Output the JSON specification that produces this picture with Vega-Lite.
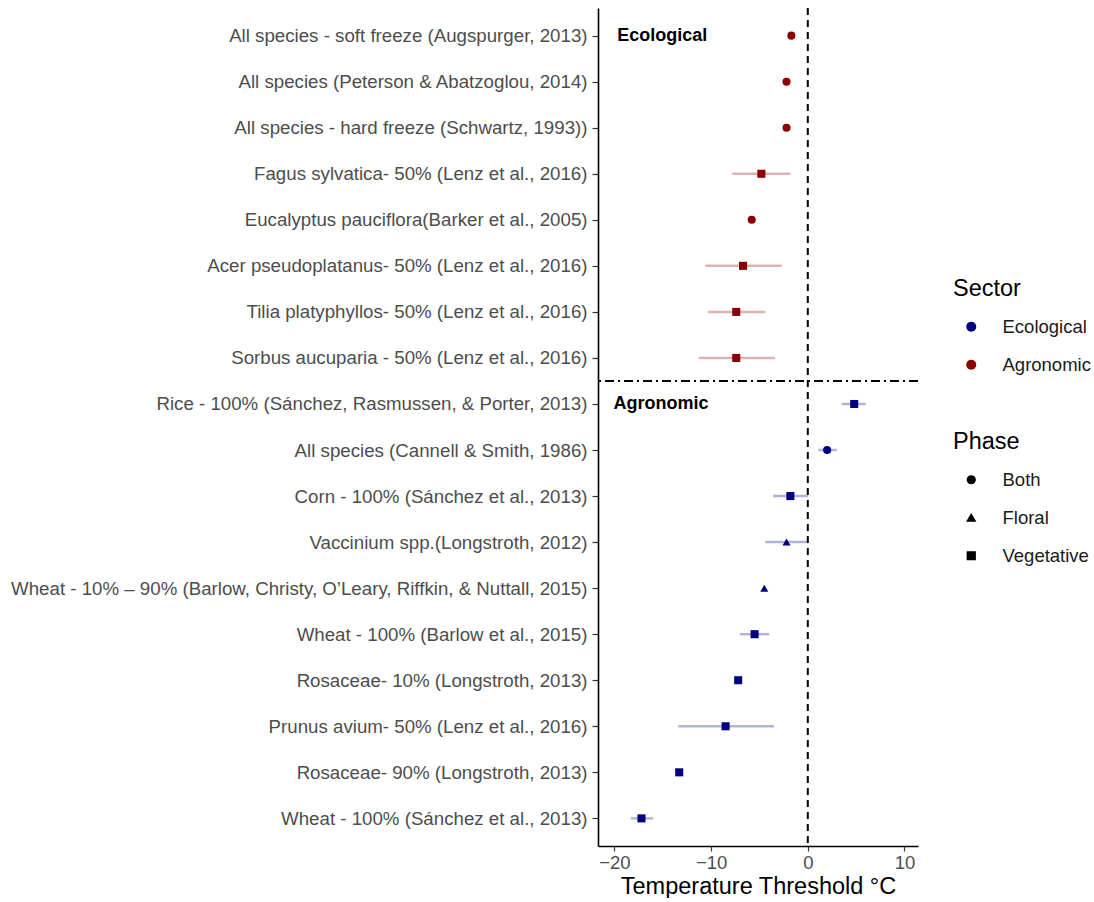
{
  "$schema": "https://vega.github.io/schema/vega-lite/v6.json",
  "width": 320,
  "height": 838,
  "padding": {"left": 10, "top": 7, "right": 0, "bottom": 0},
  "autosize": {"type": "pad"},
  "background": "white",
  "config": {
    "view": {"stroke": null},
    "font": "Liberation Sans",
    "axis": {"grid": false}
  },
  "datasets": {
    "rows": [
      {"label": "All species - soft freeze (Augspurger, 2013)", "value": -1.7, "lo": null, "hi": null, "Sector": "Agronomic", "Phase": "Both"},
      {"label": "All species (Peterson & Abatzoglou, 2014)", "value": -2.2, "lo": null, "hi": null, "Sector": "Agronomic", "Phase": "Both"},
      {"label": "All species - hard freeze (Schwartz, 1993))", "value": -2.2, "lo": null, "hi": null, "Sector": "Agronomic", "Phase": "Both"},
      {"label": "Fagus sylvatica- 50% (Lenz et al., 2016)", "value": -4.8, "lo": -7.8, "hi": -1.8, "Sector": "Agronomic", "Phase": "Vegetative"},
      {"label": "Eucalyptus pauciflora(Barker et al., 2005)", "value": -5.8, "lo": null, "hi": null, "Sector": "Agronomic", "Phase": "Both"},
      {"label": "Acer pseudoplatanus- 50% (Lenz et al., 2016)", "value": -6.7, "lo": -10.6, "hi": -2.7, "Sector": "Agronomic", "Phase": "Vegetative"},
      {"label": "Tilia platyphyllos- 50% (Lenz et al., 2016)", "value": -7.4, "lo": -10.3, "hi": -4.4, "Sector": "Agronomic", "Phase": "Vegetative"},
      {"label": "Sorbus aucuparia - 50% (Lenz et al., 2016)", "value": -7.4, "lo": -11.3, "hi": -3.4, "Sector": "Agronomic", "Phase": "Vegetative"},
      {"label": "Rice - 100% (Sánchez, Rasmussen, & Porter, 2013)", "value": 4.8, "lo": 3.5, "hi": 6.0, "Sector": "Ecological", "Phase": "Vegetative"},
      {"label": "All species (Cannell & Smith, 1986)", "value": 2.0, "lo": 1.1, "hi": 3.0, "Sector": "Ecological", "Phase": "Both"},
      {"label": "Corn - 100% (Sánchez et al., 2013)", "value": -1.8, "lo": -3.6, "hi": 0.0, "Sector": "Ecological", "Phase": "Vegetative"},
      {"label": "Vaccinium spp.(Longstroth, 2012)", "value": -2.2, "lo": -4.4, "hi": 0.0, "Sector": "Ecological", "Phase": "Floral"},
      {"label": "Wheat - 10% – 90% (Barlow, Christy, O’Leary, Riffkin, & Nuttall, 2015)", "value": -4.5, "lo": null, "hi": null, "Sector": "Ecological", "Phase": "Floral"},
      {"label": "Wheat - 100% (Barlow et al., 2015)", "value": -5.5, "lo": -7.0, "hi": -4.0, "Sector": "Ecological", "Phase": "Vegetative"},
      {"label": "Rosaceae- 10% (Longstroth, 2013)", "value": -7.2, "lo": null, "hi": null, "Sector": "Ecological", "Phase": "Vegetative"},
      {"label": "Prunus avium- 50% (Lenz et al., 2016)", "value": -8.5, "lo": -13.4, "hi": -3.5, "Sector": "Ecological", "Phase": "Vegetative"},
      {"label": "Rosaceae- 90% (Longstroth, 2013)", "value": -13.3, "lo": null, "hi": null, "Sector": "Ecological", "Phase": "Vegetative"},
      {"label": "Wheat - 100% (Sánchez et al., 2013)", "value": -17.2, "lo": -18.3, "hi": -16.0, "Sector": "Ecological", "Phase": "Vegetative"}
    ],
    "one": [{"a": 1}]
  },
  "data": {"name": "rows"},
  "resolve": {"scale": {"color": "independent"}, "legend": {"color": "independent"}},
  "layer": [
    {
      "transform": [{"filter": "datum.lo != null"}],
      "mark": {"type": "rule", "strokeWidth": 2.5},
      "encoding": {
        "y": {"field": "label", "type": "nominal", "sort": null},
        "x": {"field": "lo", "type": "quantitative"},
        "x2": {"field": "hi"},
        "color": {"field": "Sector", "type": "nominal", "scale": {"domain": ["Ecological", "Agronomic"], "range": ["#b3b3d9", "#dcb3b3"]}, "legend": null}
      }
    },
    {
      "data": {"name": "one"},
      "mark": {"type": "rule", "strokeDash": [7, 5], "strokeWidth": 2, "color": "black"},
      "encoding": {"x": {"datum": 0, "type": "quantitative"}}
    },
    {
      "data": {"name": "one"},
      "mark": {"type": "rule", "strokeDash": [9, 4, 2, 4], "strokeWidth": 2, "color": "black", "yOffset": 23},
      "encoding": {"y": {"datum": "Sorbus aucuparia - 50% (Lenz et al., 2016)", "type": "nominal"}}
    },
    {
      "mark": {"type": "point", "filled": true, "opacity": 1, "size": 65},
      "encoding": {
        "y": {
          "field": "label", "type": "nominal", "sort": null,
          "scale": {
            "type": "point", "padding": 0.6,
            "domain": [
              "All species - soft freeze (Augspurger, 2013)",
              "All species (Peterson & Abatzoglou, 2014)",
              "All species - hard freeze (Schwartz, 1993))",
              "Fagus sylvatica- 50% (Lenz et al., 2016)",
              "Eucalyptus pauciflora(Barker et al., 2005)",
              "Acer pseudoplatanus- 50% (Lenz et al., 2016)",
              "Tilia platyphyllos- 50% (Lenz et al., 2016)",
              "Sorbus aucuparia - 50% (Lenz et al., 2016)",
              "Rice - 100% (Sánchez, Rasmussen, & Porter, 2013)",
              "All species (Cannell & Smith, 1986)",
              "Corn - 100% (Sánchez et al., 2013)",
              "Vaccinium spp.(Longstroth, 2012)",
              "Wheat - 10% – 90% (Barlow, Christy, O’Leary, Riffkin, & Nuttall, 2015)",
              "Wheat - 100% (Barlow et al., 2015)",
              "Rosaceae- 10% (Longstroth, 2013)",
              "Prunus avium- 50% (Lenz et al., 2016)",
              "Rosaceae- 90% (Longstroth, 2013)",
              "Wheat - 100% (Sánchez et al., 2013)"
            ]
          },
          "axis": {
            "title": null,
            "labelFontSize": 18.7,
            "labelLimit": 0,
            "labelColor": "#4d4d4d",
            "labelPadding": 5,
            "tickSize": 6,
            "tickColor": "#333333",
            "tickWidth": 1.2,
            "domainColor": "black",
            "domainWidth": 1.6
          }
        },
        "x": {
          "field": "value", "type": "quantitative",
          "scale": {"domain": [-21.7, 11.4], "nice": false, "zero": false},
          "axis": {
            "values": [-20, -10, 0, 10],
            "title": "Temperature Threshold °C",
            "titleFontSize": 23.5,
            "titleFontWeight": "normal",
            "titleColor": "black",
            "titlePadding": 3,
            "labelFontSize": 18.5,
            "labelColor": "#4d4d4d",
            "labelPadding": 2,
            "tickSize": 5,
            "tickColor": "#333333",
            "tickWidth": 1.2,
            "domainColor": "black",
            "domainWidth": 1.6
          }
        },
        "color": {
          "field": "Sector", "type": "nominal",
          "scale": {"domain": ["Ecological", "Agronomic"], "range": ["#000080", "#8B0000"]},
          "legend": {
            "orient": "none", "legendX": 355, "legendY": 269,
            "title": "Sector", "titleFontSize": 23.5, "titleFontWeight": "normal", "titleColor": "black", "titlePadding": 17,
            "labelFontSize": 18.5, "labelColor": "#1a1a1a", "labelOffset": 22,
            "symbolType": "circle", "symbolSize": 100, "symbolOffset": 9, "rowPadding": 19
          }
        },
        "shape": {
          "field": "Phase", "type": "nominal",
          "scale": {"domain": ["Both", "Floral", "Vegetative"], "range": ["circle", "triangle-up", "square"]},
          "legend": {
            "orient": "none", "legendX": 355, "legendY": 422,
            "title": "Phase", "titleFontSize": 23.5, "titleFontWeight": "normal", "titleColor": "black", "titlePadding": 17,
            "labelFontSize": 18.5, "labelColor": "#1a1a1a", "labelOffset": 22,
            "symbolFillColor": "black", "symbolStrokeColor": "black", "symbolSize": 60, "symbolOffset": 9, "rowPadding": 19
          }
        }
      }
    },
    {
      "data": {"name": "one"},
      "mark": {"type": "text", "text": "Ecological", "fontWeight": "bold", "fontSize": 18, "align": "left", "baseline": "middle", "color": "black"},
      "encoding": {
        "x": {"datum": -19.7, "type": "quantitative"},
        "y": {"datum": "All species - soft freeze (Augspurger, 2013)", "type": "nominal"}
      }
    },
    {
      "data": {"name": "one"},
      "mark": {"type": "text", "text": "Agronomic", "fontWeight": "bold", "fontSize": 18, "align": "left", "baseline": "middle", "color": "black"},
      "encoding": {
        "x": {"datum": -20.1, "type": "quantitative"},
        "y": {"datum": "Rice - 100% (Sánchez, Rasmussen, & Porter, 2013)", "type": "nominal"}
      }
    }
  ]
}
